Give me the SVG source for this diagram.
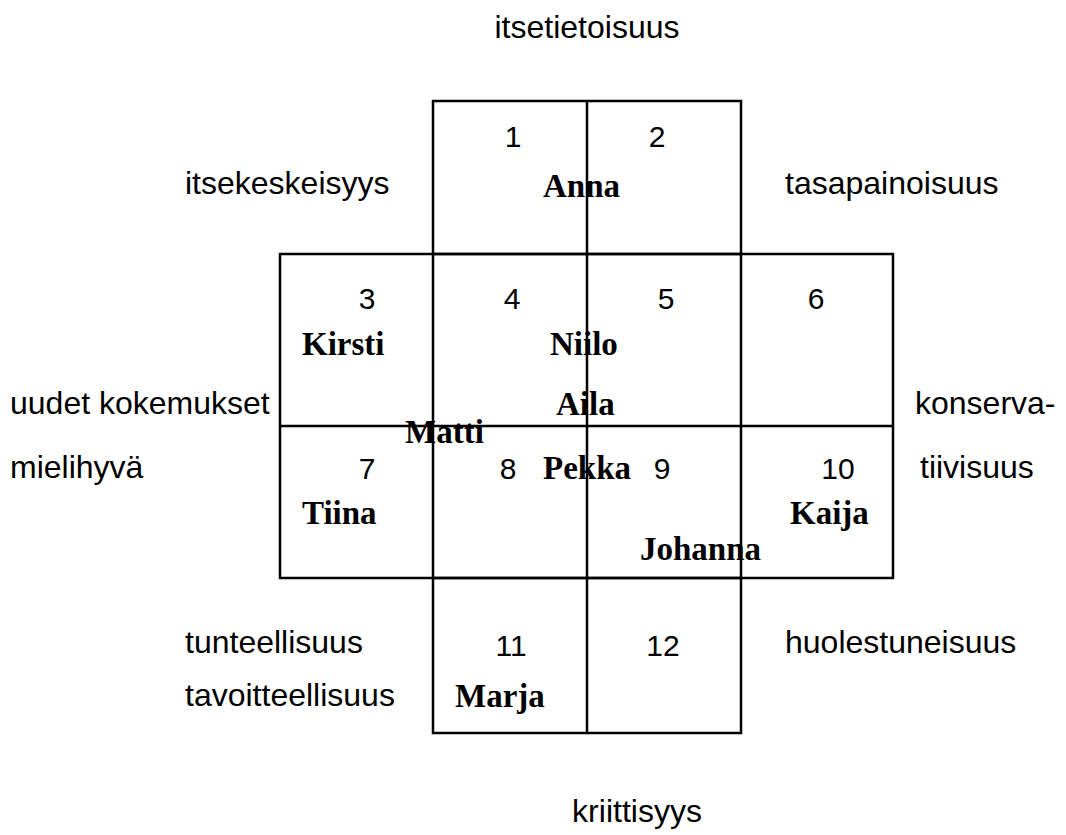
<svg xmlns="http://www.w3.org/2000/svg" width="1066" height="835" viewBox="0 0 1066 835">
<style>
.ln{stroke:#000;stroke-width:2.5;fill:none}
.lb{font-family:"Liberation Sans",Arial,sans-serif;font-size:32px;fill:#000}
.num{font-family:"Liberation Sans",Arial,sans-serif;font-size:30px;fill:#000;text-anchor:middle}
.nm{font-family:"Liberation Serif","Times New Roman",serif;font-size:33px;font-weight:bold;fill:#000}
</style>
<rect width="1066" height="835" fill="#fff"/>
<g id="grid">
<rect class="ln" x="433" y="101" width="308" height="153"/>
<rect class="ln" x="280" y="254" width="613" height="324"/>
<rect class="ln" x="433" y="578" width="308" height="155"/>
<line class="ln" x1="587" y1="101" x2="587" y2="733"/>
<line class="ln" x1="433" y1="254" x2="433" y2="578"/>
<line class="ln" x1="741" y1="254" x2="741" y2="578"/>
<line class="ln" x1="280" y1="426" x2="893" y2="426"/>
</g>
<g id="cells">
<g id="c1"><text class="num" x="513" y="147">1</text></g>
<g id="c2"><text class="num" x="657" y="147">2</text></g>
<g id="c3"><text class="num" x="367" y="309">3</text></g>
<g id="c4"><text class="num" x="512" y="309">4</text></g>
<g id="c5"><text class="num" x="666" y="309">5</text></g>
<g id="c6"><text class="num" x="816" y="309">6</text></g>
<g id="c7"><text class="num" x="367" y="479">7</text></g>
<g id="c8"><text class="num" x="508" y="479">8</text></g>
<g id="c9"><text class="num" x="662" y="479">9</text></g>
<g id="c10"><text class="num" x="838" y="479">10</text></g>
<g id="c11"><text class="num" x="511" y="656">11</text></g>
<g id="c12"><text class="num" x="663" y="656">12</text></g>
</g>
<g id="names">
<text class="nm" x="543" y="197">Anna</text>
<text class="nm" x="302" y="355">Kirsti</text>
<text class="nm" x="550" y="355">Niilo</text>
<text class="nm" x="556" y="415">Aila</text>
<text class="nm" x="405" y="443">Matti</text>
<text class="nm" x="543" y="479">Pekka</text>
<text class="nm" x="302" y="524">Tiina</text>
<text class="nm" x="790" y="524">Kaija</text>
<text class="nm" x="640" y="560">Johanna</text>
<text class="nm" x="455" y="707">Marja</text>
</g>
<g id="labels">
<text class="lb" x="587" y="38" text-anchor="middle">itsetietoisuus</text>
<text class="lb" x="185" y="194">itsekeskeisyys</text>
<text class="lb" x="785" y="194">tasapainoisuus</text>
<text class="lb" x="10" y="414">uudet kokemukset</text>
<text class="lb" x="10" y="478">mielihyvä</text>
<text class="lb" x="915" y="414">konserva-</text>
<text class="lb" x="920" y="478">tiivisuus</text>
<text class="lb" x="185" y="653">tunteellisuus</text>
<text class="lb" x="185" y="706">tavoitteellisuus</text>
<text class="lb" x="785" y="653">huolestuneisuus</text>
<text class="lb" x="637" y="822" text-anchor="middle">kriittisyys</text>
</g>
</svg>
